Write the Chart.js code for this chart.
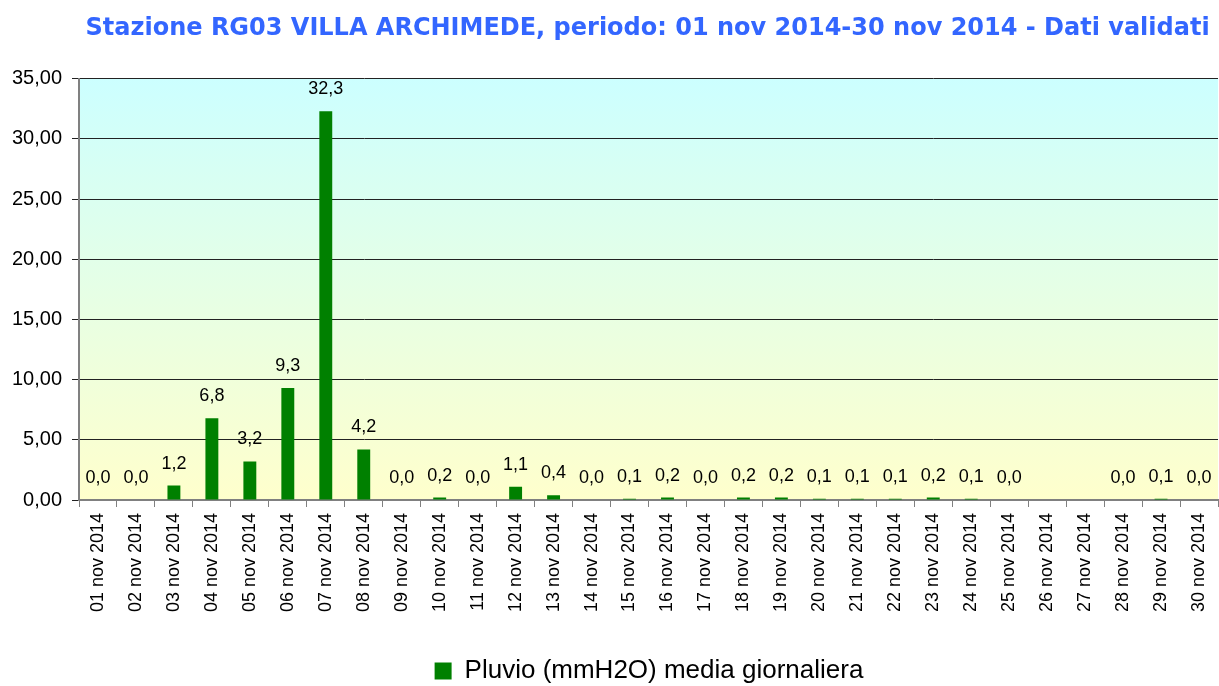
<!DOCTYPE html>
<html>
<head>
<meta charset="utf-8">
<script src="https://cdn.jsdelivr.net/npm/chart.js@4.4.1/dist/chart.umd.min.js"></script>
<style>
  html, body { margin: 0; padding: 0; background: #fff; }
  #wrap { width: 1219px; height: 686px; }
</style>
</head>
<body>
<div id="wrap"><canvas id="chart" width="1219" height="686"></canvas></div>
<script>
/* Pluvio giornaliero RG03 – novembre 2014 */

const days = ["01 nov 2014","02 nov 2014","03 nov 2014","04 nov 2014","05 nov 2014","06 nov 2014",
  "07 nov 2014","08 nov 2014","09 nov 2014","10 nov 2014","11 nov 2014","12 nov 2014",
  "13 nov 2014","14 nov 2014","15 nov 2014","16 nov 2014","17 nov 2014","18 nov 2014",
  "19 nov 2014","20 nov 2014","21 nov 2014","22 nov 2014","23 nov 2014","24 nov 2014",
  "25 nov 2014","26 nov 2014","27 nov 2014","28 nov 2014","29 nov 2014","30 nov 2014"];

const pluvio = [0.0, 0.0, 1.2, 6.8, 3.2, 9.3, 32.3, 4.2, 0.0, 0.2, 0.0, 1.1, 0.4, 0.0, 0.1,
  0.2, 0.0, 0.2, 0.2, 0.1, 0.1, 0.1, 0.2, 0.1, 0.0, null, null, 0.0, 0.1, 0.0];

const yTicks = [0, 5, 10, 15, 20, 25, 30, 35];

const titleText = "Stazione RG03 VILLA ARCHIMEDE, periodo: 01 nov 2014-30 nov 2014 - Dati validati ";
const seriesName = "Pluvio (mmH2O) media giornaliera";

const ARIAL = "'Liberation Sans', Arial, sans-serif";

function itNum(v, d) { return v.toFixed(d).replace(".", ","); }

// sfondo sfumato dell'area del grafico
const bgPlugin = {
  id: "bgGrad",
  beforeDraw(chart) {
    const a = chart.chartArea, ctx = chart.ctx;
    const g = ctx.createLinearGradient(0, a.top, 0, a.bottom);
    g.addColorStop(0, "#ccffff");
    g.addColorStop(1, "#ffffcc");
    ctx.save();
    ctx.fillStyle = g;
    ctx.fillRect(a.left, a.top, a.right - a.left, a.bottom - a.top);
    ctx.restore();
  }
};

// legenda un po' spostata (come nell'originale)
const legendShift = {
  id: "legendShift",
  afterLayout(chart) {
    const l = chart.legend;
    if (!l) return;
    l.left += 40; l.right += 40;
    l.top += 8; l.bottom += 8;
  }
};

// etichette valori sopra le barre
const labelPlugin = {
  id: "valLabels",
  afterDatasetsDraw(chart) {
    const ctx = chart.ctx;
    const meta = chart.getDatasetMeta(0);
    ctx.save();
    ctx.font = "18px " + ARIAL;
    ctx.fillStyle = "#000";
    ctx.textAlign = "center";
    ctx.textBaseline = "middle";
    meta.data.forEach((bar, i) => {
      const v = pluvio[i];
      if (v === null || v === undefined) return;
      ctx.fillText(itNum(v, 1), bar.x, bar.y - 22);
    });
    ctx.restore();
  }
};

new Chart(document.getElementById("chart"), {
  type: "bar",
  data: {
    labels: days,
    datasets: [{
      label: seriesName,
      data: pluvio,
      backgroundColor: "#008000",
      borderWidth: 0,
      barPercentage: 0.34,
      categoryPercentage: 1.0
    }]
  },
  options: {
    responsive: false,
    animation: false,
    layout: { padding: { left: 0, right: 1, top: 0, bottom: 0 } },
    plugins: {
      title: {
        display: true,
        text: titleText,
        align: "end",
        color: "#3366ff",
        font: { family: "'DejaVu Sans', Verdana, sans-serif", size: 24, weight: "bold" },
        padding: { top: 14, bottom: 36 }
      },
      legend: {
        position: "bottom",
        labels: {
          color: "#000",
          font: { family: ARIAL, size: 26 },
          boxWidth: 17,
          boxHeight: 17,
          padding: 4
        }
      },
      tooltip: { enabled: false }
    },
    scales: {
      x: {
        afterFit(scale) {
          scale.height = 146;
          scale.paddingLeft = 0;
          scale.paddingRight = 0;
        },
        grid: { drawOnChartArea: false, drawTicks: true, tickLength: 7, color: "#808080", offset: true },
        border: { color: "#808080", width: 2 },
        ticks: {
          color: "#000",
          font: { family: ARIAL, size: 18 },
          minRotation: 90,
          maxRotation: 90,
          autoSkip: false,
          padding: 6
        }
      },
      y: {
        min: 0,
        max: 35,
        afterBuildTicks(scale) { scale.ticks = yTicks.map(v => ({ value: v })); },
        afterFit(scale) { scale.width = 79; },
        grid: { color: "#222222", lineWidth: 1, drawTicks: true, tickLength: 7 },
        border: { color: "#808080", width: 2 },
        ticks: {
          color: "#000",
          font: { family: ARIAL, size: 20 },
          padding: 10,
          callback: v => itNum(v, 2)
        }
      }
    }
  },
  plugins: [bgPlugin, legendShift, labelPlugin]
});
</script>
</body>
</html>
